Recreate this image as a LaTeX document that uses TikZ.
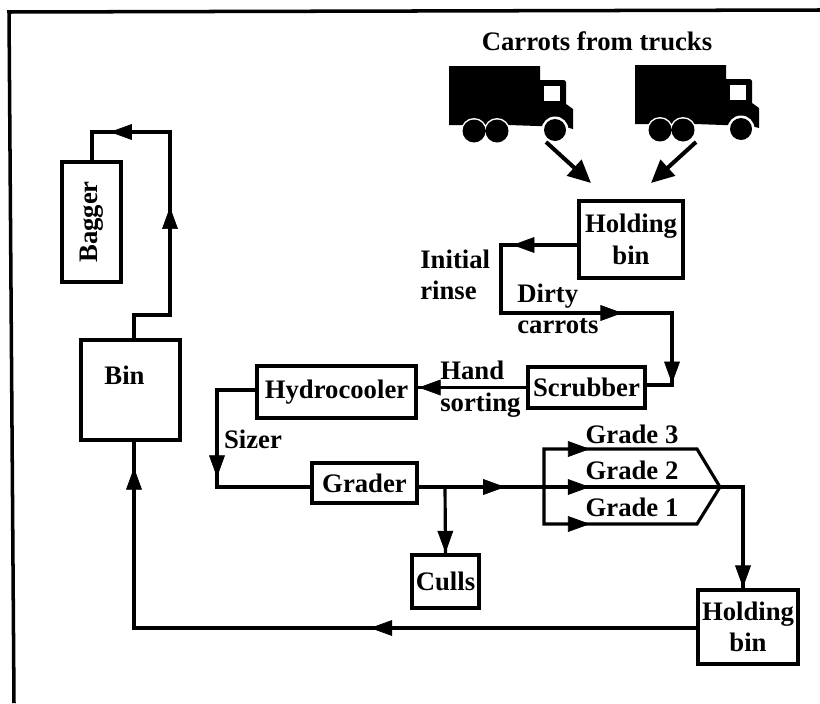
\documentclass[tikz,border=0pt]{standalone}
\usepackage{fontspec}
\setmainfont{Liberation Serif}
\usepackage{tikz}
\usetikzlibrary{arrows.meta,decorations.markings}

\begin{document}
\begin{tikzpicture}[
    x=0.02cm, y=-0.02cm,
    procbox/.style={draw, line width=1.8pt, align=center, inner sep=0pt, font=\fontsize{15.2}{18}\selectfont\bfseries},
    link/.style={line width=1.8pt, line join=miter},
    arr/.style={-{Triangle[length=13pt,width=12pt]}, line width=2.3pt},
    flowtip/.style={postaction={decorate}, decoration={markings, mark=at position #1 with {\arrow{Triangle[length=12.5pt,width=9pt]}}}},
    lbl/.style={inner sep=0pt, align=left, font=\fontsize{15.2}{18}\selectfont\bfseries},
    truck/.pic={
        \fill (0,0) -- (91,0) -- (91,14) -- (115,14) -- (117,16) -- (117,38) -- (124,43) -- (124,63) -- (116,61) -- (60,59) -- (0,59) -- cycle;
        \fill[white] (95,20) rectangle (111,35);
        \fill[white] (25,65) circle (13) (48,65) circle (13) (106,64) circle (13.5);
        \fill (25,65) circle (11.5) (48,65) circle (11.5) (106,64) circle (11);
    }
]
\useasboundingbox (0,0) rectangle (820,703);
\draw[line width=2pt] (14,703) -- (9,12) -- (820,10);

\pic at (449,66) {truck};
\pic at (635,65) {truck};
\node[lbl] (title) at (597,41) {Carrots from trucks};

\coordinate (t1) at (546,142);
\coordinate (t2) at (696,142);
\coordinate (h1) at (591,183);
\coordinate (h2) at (651,183);
\draw[arr] (t1) -- (h1);
\draw[arr] (t2) -- (h2);

% boxes
\node[procbox, minimum width=104*0.02cm, minimum height=77*0.02cm] (hold) at (631,239.5) {Holding\\bin};
\node[procbox, minimum width=117*0.02cm, minimum height=41*0.02cm] (scrub) at (586.5,387.5) {Scrubber};
\node[procbox, minimum width=159*0.02cm, minimum height=52*0.02cm] (hydro) at (336.5,392) {Hydrocooler};
\node[procbox, minimum width=105*0.02cm, minimum height=40*0.02cm] (grader) at (364.5,483) {Grader};
\node[procbox, minimum width=67*0.02cm, minimum height=53*0.02cm] (culls) at (445.5,581.5) {Culls};
\node[procbox, minimum width=100*0.02cm, minimum height=74*0.02cm] (hold2) at (748,627) {Holding\\bin};
\node[procbox, minimum width=99*0.02cm, minimum height=100*0.02cm, label={[lbl,xshift=-6*0.02cm,yshift=15*0.02cm]center:Bin}] (bin) at (130.5,390) {};
\node[procbox, minimum width=59*0.02cm, minimum height=120*0.02cm] (bag) at (91.5,222) {\rotatebox{90}{Bagger}};

% corners
\coordinate (a1) at (501,245);
\coordinate (a2) at (501,313);
\coordinate (a3) at (672,313);
\coordinate (a4) at (672,385);
\coordinate (b1) at (217,390);
\coordinate (b2) at (217,487);
\coordinate (c1) at (544,449);
\coordinate (c2) at (544,524);
\coordinate (c3) at (697,449);
\coordinate (c4) at (697,524);
\coordinate (c5) at (720,487);
\coordinate (c6) at (743,487);
\coordinate (c7) at (544,487);
\coordinate (c8) at (445,487);
\coordinate (d1) at (134,628);
\coordinate (e1) at (134,315);
\coordinate (e2) at (170,315);
\coordinate (e3) at (170,132);
\coordinate (e4) at (92,132);

\draw[link] (hold.west |- a1) -- (a1) -- (a2) -- (a3) -- (a4) -- (scrub.east |- a4);
\path[flowtip=.85] (hold.west |- a1) -- (a1);
\path[flowtip=.71] (a2) -- (a3);
\path[flowtip=.98] (a3) -- (a4);
\draw[link] (scrub.west) -- (hydro.east |- scrub.west);
\path[flowtip=.99] (scrub.west) -- (hydro.east |- scrub.west);
\draw[link] (hydro.west |- b1) -- (b1) -- (b2) -- (grader.west |- b2);
\path[flowtip=.9] (b1) -- (b2);
\draw[link] (grader.east |- c6) -- (c6) -- (hold2.north -| c6);
\path[flowtip=.69] (grader.east |- c6) -- (c7);
\path[flowtip=.99] (c6) -- (hold2.north -| c6);
\draw[link] (c8) -- (culls.north);
\path[flowtip=.99] (c8) -- (culls.north);
\draw[link] (c3) -- (c1) -- (c2) -- (c4) -- (c5) -- cycle;
\path[flowtip=.3] (c1) -- (c3);
\path[flowtip=.23] (c7) -- (c6);
\path[flowtip=.3] (c2) -- (c4);
\draw[link] (hold2.west |- d1) -- (d1) -- (bin.south -| d1);
\path[flowtip=.58] (hold2.west |- d1) -- (d1);
\path[flowtip=.86] (d1) -- (bin.south -| d1);
\draw[link] (bin.north -| e1) -- (e1) -- (e2) -- (e3) -- (e4) -- (bag.north -| e4);
\path[flowtip=.59] (e2) -- (e3);
\path[flowtip=.77] (e3) -- (e4);

% labels
\node[lbl, anchor=west] (rinse) at (420,275) {Initial\\rinse};
\node[lbl, anchor=west] (dirty) at (517,309) {Dirty\\carrots};
\node[lbl, anchor=west] (sorting) at (440,389) {Hand\\sorting};
\node[lbl] (sizer) at (253,439) {Sizer};
\node[lbl] (g3) at (632,434) {Grade 3};
\node[lbl] (g2) at (632,470) {Grade 2};
\node[lbl] (g1) at (632,507) {Grade 1};
\end{tikzpicture}
\end{document}
